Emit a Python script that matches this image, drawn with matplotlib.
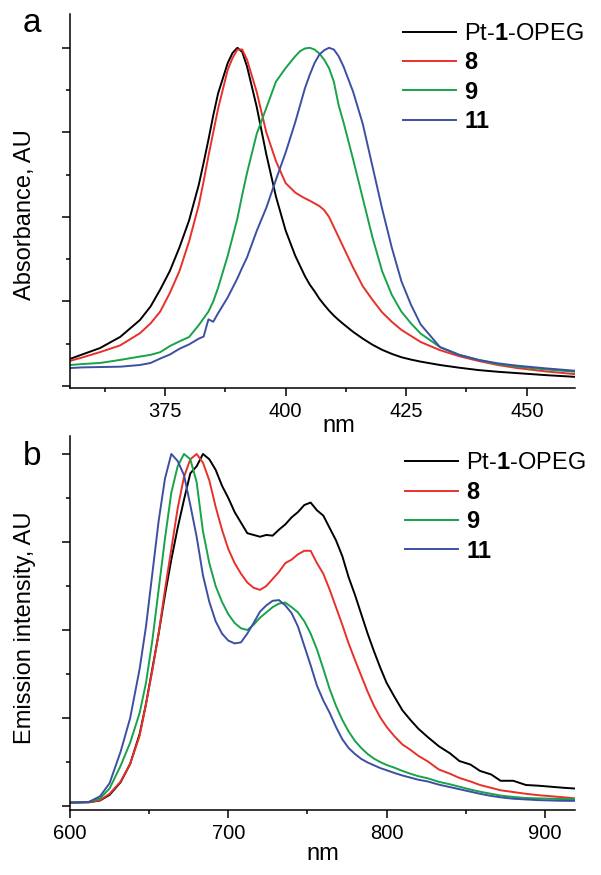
import numpy as np
import matplotlib
matplotlib.use("Agg")
import matplotlib.pyplot as plt
from matplotlib.ticker import MultipleLocator, NullFormatter

plt.rcParams['font.family'] = ['Liberation Sans', 'DejaVu Sans']
plt.rcParams['mathtext.fontset'] = 'custom'
plt.rcParams['mathtext.rm'] = 'Liberation Sans'
plt.rcParams['mathtext.bf'] = 'Liberation Sans:bold'

# labels / colours
labels = ['Pt-$\\mathbf{1}$-OPEG', '8', '9', '11']
colors = ['#000000', '#e8302a', '#17a34a', '#3c4fa3']

# (a) absorbance, normalised
wl_abs = [355.3, 358, 361.5, 365.7, 369.8, 372, 374, 376, 378, 380, 382, 383, 384, 385, 386,
          388, 389, 390, 391, 392, 394, 396, 398, 400, 402, 403, 404, 405, 406, 407, 408, 409,
          410, 411, 412, 414, 416, 418, 420, 422, 424, 426, 428, 432, 436, 440, 444, 448, 454, 460]
abs_pt1 = [0.080, 0.094, 0.112, 0.145, 0.195, 0.235, 0.285, 0.34, 0.41, 0.49, 0.595, 0.66, 0.728, 0.80, 0.865,
           0.955, 0.985, 1.0, 0.988, 0.945, 0.826, 0.685, 0.56, 0.46, 0.385, 0.355, 0.325, 0.30, 0.28, 0.258, 0.24, 0.223,
           0.208, 0.195, 0.183, 0.16, 0.14, 0.122, 0.107, 0.095, 0.085, 0.078, 0.072, 0.062, 0.054, 0.047, 0.042, 0.038, 0.032, 0.027]
abs_8 = [0.074, 0.085, 0.10, 0.12, 0.156, 0.185, 0.22, 0.275, 0.34, 0.428, 0.535, 0.605, 0.68, 0.75, 0.82,
         0.935, 0.97, 0.995, 0.995, 0.965, 0.87, 0.75, 0.665, 0.60, 0.572, 0.563, 0.555, 0.548, 0.54, 0.532, 0.52, 0.50,
         0.47, 0.44, 0.41, 0.35, 0.295, 0.255, 0.218, 0.19, 0.166, 0.148, 0.13, 0.106, 0.088, 0.074, 0.062, 0.053, 0.043, 0.035]
abs_9 = [0.062, 0.065, 0.068, 0.077, 0.087, 0.092, 0.10, 0.118, 0.132, 0.145, 0.18, 0.20, 0.22, 0.25, 0.29,
         0.385, 0.44, 0.495, 0.565, 0.63, 0.745, 0.822, 0.90, 0.94, 0.975, 0.99, 0.998, 1.0, 0.995, 0.983, 0.965, 0.94,
         0.90, 0.83, 0.78, 0.67, 0.555, 0.44, 0.34, 0.27, 0.22, 0.185, 0.155, 0.115, 0.092, 0.077, 0.065, 0.057, 0.049, 0.042]
abs_11 = [0.053, 0.055, 0.056, 0.057, 0.062, 0.068, 0.081, 0.093, 0.11, 0.123, 0.14, 0.146, 0.197, 0.19, 0.215,
          0.262, 0.29, 0.318, 0.35, 0.38, 0.458, 0.527, 0.61, 0.69, 0.78, 0.83, 0.88, 0.92, 0.955, 0.98, 0.993, 1.0,
          0.995, 0.975, 0.945, 0.87, 0.775, 0.65, 0.525, 0.41, 0.31, 0.24, 0.182, 0.115, 0.092, 0.077, 0.067, 0.06, 0.052, 0.045]

# (b) emission, normalised
wl_em = [600, 612, 619, 625, 632, 638, 644, 648, 652, 656, 660, 664, 668, 672, 676, 680, 684, 688,
         692, 696, 700, 704, 708, 712, 716, 720, 724, 728, 732, 736, 740, 744, 748, 752, 756, 760,
         764, 768, 772, 776, 780, 784, 788, 792, 796, 800, 805, 810, 815, 820, 826, 833, 840, 846,
         853, 859, 866, 872, 880, 888, 896, 904, 912, 919]
em_pt1 = [0.010, 0.011, 0.016, 0.032, 0.068, 0.12, 0.205, 0.29, 0.39, 0.49, 0.60, 0.70, 0.79, 0.87, 0.945, 0.965, 1.0, 0.985,
          0.955, 0.91, 0.875, 0.835, 0.805, 0.775, 0.77, 0.765, 0.77, 0.768, 0.785, 0.80, 0.82, 0.835, 0.855, 0.862, 0.84, 0.825,
          0.79, 0.755, 0.71, 0.65, 0.60, 0.545, 0.49, 0.44, 0.393, 0.35, 0.31, 0.272, 0.245, 0.22, 0.196, 0.17, 0.15, 0.128,
          0.118, 0.100, 0.09, 0.072, 0.072, 0.06, 0.058, 0.055, 0.052, 0.05]
em_8 = [0.010, 0.011, 0.017, 0.035, 0.07, 0.12, 0.20, 0.29, 0.385, 0.49, 0.615, 0.73, 0.845, 0.935, 0.985, 1.0, 0.975, 0.925,
        0.85, 0.785, 0.73, 0.69, 0.66, 0.635, 0.62, 0.614, 0.625, 0.645, 0.665, 0.69, 0.70, 0.715, 0.725, 0.725, 0.69, 0.66,
        0.615, 0.565, 0.515, 0.462, 0.415, 0.37, 0.325, 0.285, 0.252, 0.225, 0.198, 0.175, 0.16, 0.143, 0.127, 0.104, 0.092, 0.08,
        0.07, 0.06, 0.052, 0.045, 0.04, 0.035, 0.031, 0.028, 0.025, 0.022]
em_9 = [0.010, 0.012, 0.022, 0.05, 0.115, 0.18, 0.265, 0.35, 0.47, 0.615, 0.76, 0.89, 0.965, 1.0, 0.985, 0.92, 0.78, 0.69,
        0.625, 0.58, 0.545, 0.52, 0.505, 0.50, 0.515, 0.535, 0.55, 0.565, 0.575, 0.578, 0.565, 0.55, 0.525, 0.49, 0.445, 0.39,
        0.333, 0.285, 0.245, 0.212, 0.185, 0.165, 0.148, 0.135, 0.125, 0.117, 0.109, 0.10, 0.092, 0.085, 0.079, 0.069, 0.062, 0.055,
        0.047, 0.041, 0.035, 0.030, 0.026, 0.023, 0.022, 0.021, 0.02, 0.02]
em_11 = [0.010, 0.012, 0.028, 0.065, 0.155, 0.25, 0.39, 0.51, 0.66, 0.81, 0.93, 1.0, 0.98, 0.94, 0.855, 0.765, 0.655, 0.58,
         0.525, 0.49, 0.47, 0.462, 0.465, 0.49, 0.52, 0.552, 0.57, 0.583, 0.585, 0.57, 0.548, 0.51, 0.455, 0.40, 0.342, 0.30,
         0.265, 0.225, 0.19, 0.165, 0.148, 0.134, 0.124, 0.116, 0.108, 0.102, 0.094, 0.087, 0.081, 0.075, 0.07, 0.061, 0.054, 0.048,
         0.041, 0.035, 0.029, 0.025, 0.021, 0.019, 0.017, 0.016, 0.015, 0.015]

abs_series = [abs_pt1, abs_8, abs_9, abs_11]
em_series = [em_pt1, em_8, em_9, em_11]

fig = plt.figure(figsize=(6.01, 8.75), dpi=100)
W, H = 601, 875
ax_a = fig.add_axes([70 / W, 1 - 388 / H, 505 / W, 374 / H])
ax_b = fig.add_axes([70 / W, 1 - 810 / H, 505 / W, 374 / H])


def style_axes(ax):
    for s in ['top', 'right']:
        ax.spines[s].set_visible(False)
    for s in ['left', 'bottom']:
        ax.spines[s].set_linewidth(1.1)
    ax.yaxis.set_major_locator(MultipleLocator(0.25))
    ax.yaxis.set_minor_locator(MultipleLocator(0.125))
    ax.yaxis.set_major_formatter(NullFormatter())
    ax.tick_params(which='major', direction='out', length=5.8, width=1.1, labelsize=14.5, pad=4)
    ax.tick_params(which='minor', direction='out', length=3, width=1.1)


# panel a
for y, c, lab in zip(abs_series, colors, labels):
    ax_a.plot(wl_abs, y, color=c, lw=1.4, label=lab)
ax_a.set_xlim(355.3, 460)
ax_a.set_ylim(-0.006, 1.10)
style_axes(ax_a)
ax_a.xaxis.set_major_locator(MultipleLocator(25))
ax_a.xaxis.set_minor_locator(MultipleLocator(12.5))
ax_a.set_xlabel('nm', fontsize=17)
ax_a.xaxis.set_label_coords(0.533, -0.072)
ax_a.set_ylabel('Absorbance, AU', fontsize=17)
ax_a.yaxis.set_label_coords(-0.068, 0.464)

# panel b
for y, c, lab in zip(em_series, colors, labels):
    ax_b.plot(wl_em, y, color=c, lw=1.4, label=lab)
ax_b.set_xlim(600, 919)
ax_b.set_ylim(-0.011, 1.051)
style_axes(ax_b)
ax_b.xaxis.set_major_locator(MultipleLocator(100))
ax_b.xaxis.set_minor_locator(MultipleLocator(50))
ax_b.set_xlabel('nm', fontsize=17)
ax_b.xaxis.set_label_coords(0.5, -0.088)
ax_b.set_ylabel('Emission intensity, AU', fontsize=17)
ax_b.yaxis.set_label_coords(-0.068, 0.487)

for ax, anchor in [(ax_a, (0.659, 0.976)), (ax_b, (0.663, 0.956))]:
    leg = ax.legend(loc='upper left', bbox_to_anchor=anchor, frameon=False, fontsize=17,
                    handlelength=2.25, handletextpad=0.35, labelspacing=0.27,
                    borderpad=0, borderaxespad=0)
    for t in leg.get_texts()[1:]:
        t.set_fontweight('bold')

fig.text(23 / W, 1 - 32 / H, 'a', fontsize=24, va='baseline')
fig.text(23 / W, 1 - 465 / H, 'b', fontsize=24, va='baseline')

fig.savefig('out.png', dpi=100)
